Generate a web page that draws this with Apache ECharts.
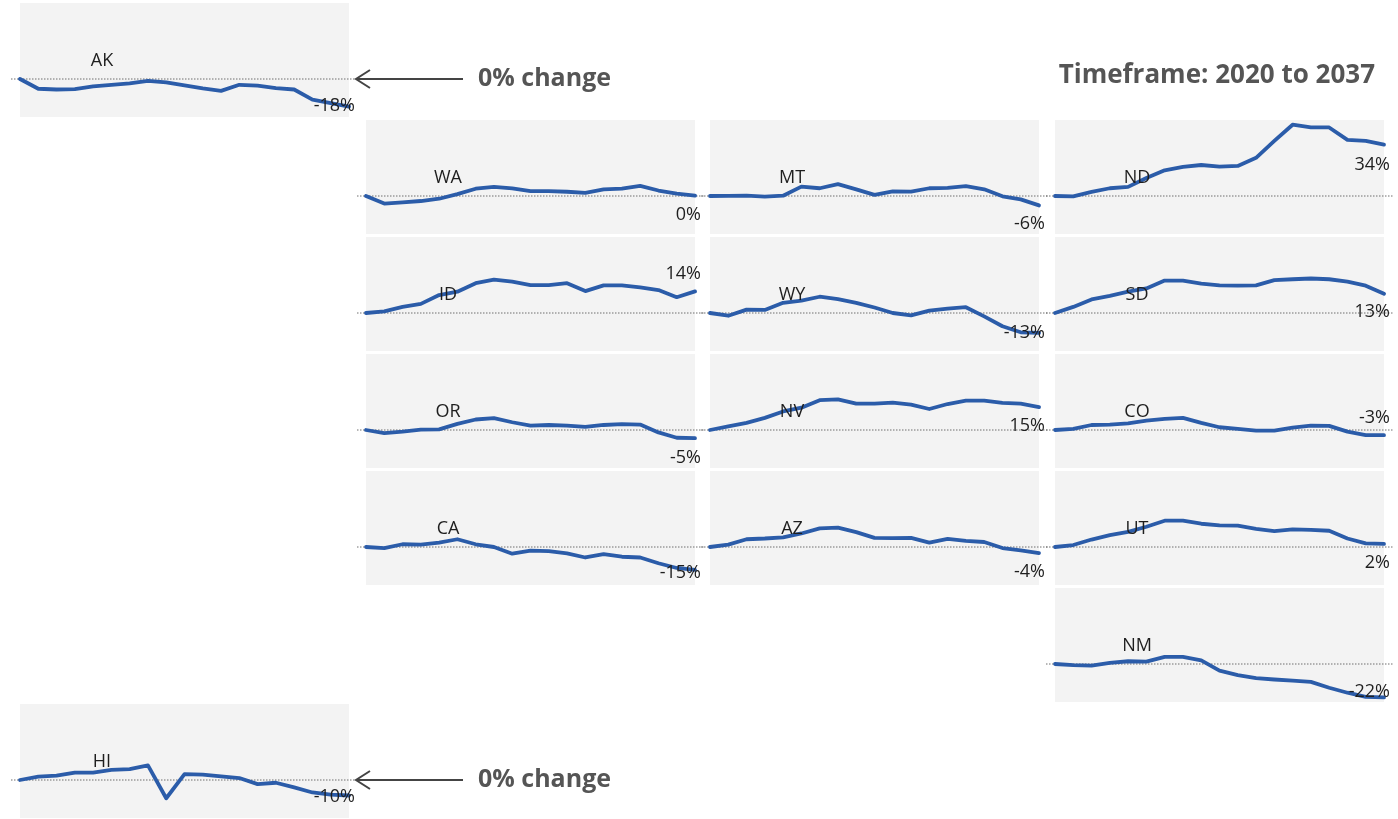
<!DOCTYPE html>
<html><head><meta charset="utf-8">
<script src="https://cdn.jsdelivr.net/npm/echarts@6/dist/echarts.min.js"></script>
<style>html,body{margin:0;padding:0;background:#fff}#c{width:1398px;height:819px}</style>
</head><body><div id="c"></div>
<script>
// ---------- DATA ----------
const years = ['2019','2020','2021','2022','2023','2024','2025','2026','2027','2028','2029','2030','2031','2032','2033','2034','2035','2036','2037'];
const states = ['AK','WA','MT','ND','ID','WY','SD','OR','NV','CO','CA','AZ','UT','NM','HI'];
const AK = [0,-6.4,-6.9,-6.7,-4.9,-3.8,-2.9,-1.3,-2.2,-4.2,-6.2,-7.8,-3.8,-4.4,-6.0,-6.9,-13.6,-15.8,-18.2];
const WA = [0,-5.0,-4.2,-3.3,-1.8,1.2,4.8,6.0,5.0,3.2,3.2,2.8,2.1,4.3,4.8,6.6,3.6,1.5,0.2];
const MT = [0,0.1,0.2,-0.4,0.2,6.2,5.1,7.8,4.4,0.7,3.1,2.9,5.1,5.3,6.5,4.4,-0.2,-2.2,-6.2];
const ND = [0,-0.2,2.7,5.1,6.0,11.8,16.9,19.1,20.4,19.3,19.8,25.1,36.2,46.9,45.1,45.1,36.9,36.2,33.8];
const ID = [0,1.1,4.0,6.0,11.8,14.0,19.6,22.0,20.7,18.4,18.4,19.6,14.4,18.2,18.2,16.9,15.1,10.4,14.2];
const WY = [0,-1.8,2.2,2.0,6.7,8.2,10.7,9.1,6.7,3.6,0,-1.6,1.6,2.9,3.8,-2.2,-8.7,-12.7,-13.1];
const SD = [0,4.0,8.9,11.3,14.0,16.2,21.3,21.3,19.3,18.2,18.0,18.2,21.6,22.2,22.7,22.2,20.7,18.0,12.7];
const OR = [0,-2.0,-1.1,0.2,0.4,4.0,6.9,7.8,5.1,2.9,3.3,2.9,2.0,3.3,3.8,3.6,-1.6,-5.1,-5.4];
const NV = [0,2.4,4.7,8.0,12.2,14.7,19.6,20.2,17.3,17.3,18.0,16.7,13.8,17.1,19.3,19.3,17.8,17.3,15.1];
const CO = [0,0.7,3.3,3.6,4.4,6.2,7.3,8.0,4.7,1.8,0.7,-0.4,-0.4,1.6,2.9,2.7,-1.1,-3.4,-3.4];
const CA = [0,-0.7,1.8,1.6,2.9,5.1,1.8,0,-4.4,-2.4,-2.7,-4.2,-6.9,-4.7,-6.4,-6.9,-10.7,-13.8,-15.0];
const AZ = [0,1.6,5.1,5.6,6.4,8.9,12.2,12.7,9.8,6.0,5.8,6.0,2.9,5.3,4.0,3.3,-0.7,-2.2,-4.0];
const UT = [0,1.3,4.9,7.8,10.0,13.3,17.3,17.3,15.3,14.2,14.0,12.0,10.4,11.6,11.3,10.7,5.6,2.4,2.0];
const NM = [0,-0.7,-1.1,0.7,1.8,1.6,4.7,4.7,2.4,-4.4,-7.3,-9.3,-10.2,-10.9,-11.8,-15.6,-18.9,-21.6,-22.0];
const HI = [0,2.2,2.9,4.9,4.9,6.7,7.1,9.6,-12.0,3.8,3.6,2.4,1.3,-2.7,-1.8,-4.9,-8.2,-9.6,-10.2];
const values = {AK,WA,MT,ND,ID,WY,SD,OR,NV,CO,CA,AZ,UT,NM,HI};
const timeframeText = 'Timeframe: 2020 to 2037';
const zeroText = '0% change';

// ---------- LAYOUT (tile map) ----------
const tile = {AK:[0,0],WA:[1,1],MT:[2,1],ND:[3,1],ID:[1,2],WY:[2,2],SD:[3,2],OR:[1,3],NV:[2,3],CO:[3,3],CA:[1,4],AZ:[2,4],UT:[3,4],NM:[3,5],HI:[0,6]};
const colX = [20, 366, 710, 1055];
const rowY = [3, 120, 237, 354, 471, 588, 704];
const tileW = 329, tileH = 114;
const endLabelDy = {AK:-1,WA:19,MT:18,ND:20,ID:-18,WY:0,SD:18,OR:20,NV:19,CO:-17,CA:3,AZ:19,UT:19,NM:-6,HI:1};

const FONT = '"Open Sans", "Noto Sans", sans-serif';
const chart = echarts.init(document.getElementById('c'), null, {renderer:'canvas'});

const grid = [], xAxis = [], yAxis = [], series = [];
states.forEach((s, k) => {
  const [c, r] = tile[s];
  grid.push({left: colX[c], top: rowY[r], width: tileW, height: tileH, show: true, backgroundColor: '#f3f3f3', borderWidth: 0, containLabel: false});
  xAxis.push({type: 'category', data: years, boundaryGap: false, gridIndex: k, show: false});
  yAxis.push({type: 'value', min: -25, max: 50, gridIndex: k, show: false});
  series.push({type: 'line', name: s, xAxisIndex: k, yAxisIndex: k, data: values[s], showSymbol: false, silent: true, z: 5,
    lineStyle: {color: '#2b5ca9', width: 3.8, join: 'round', cap: 'round'}});
});

chart.setOption({animation: false, grid, xAxis, yAxis, series});

// ---------- annotations positioned via the axes ----------
const g = [];
states.forEach((s, k) => {
  const [c] = tile[s];
  const data = values[s];
  const pL = chart.convertToPixel({gridIndex: k}, [0, 0]);
  const pR = chart.convertToPixel({gridIndex: k}, [data.length - 1, 0]);
  const pE = chart.convertToPixel({gridIndex: k}, [data.length - 1, data[data.length - 1]]);
  const y0 = pL[1];
  const extR = c === 0 ? 6 : 9;
  g.push({type: 'line', z: 3, silent: true, shape: {x1: pL[0] - 9, y1: y0, x2: pR[0] + extR, y2: y0},
    style: {stroke: '#6f6f6f', lineWidth: 1, lineDash: [1.5, 1.5]}});
  g.push({type: 'text', z: 6, silent: true, x: pL[0] + 82, y: y0 - 18,
    style: {text: s, font: '18px ' + FONT, fill: '#1e1e1e', align: 'center', verticalAlign: 'middle'}});
  const endVal = Math.round(data[data.length - 1]);
  g.push({type: 'text', z: 6, silent: true, x: pR[0] + 6, y: pE[1] + endLabelDy[s],
    style: {text: (endVal === 0 ? 0 : endVal) + '%', font: '18px ' + FONT, fill: '#1e1e1e', align: 'right', verticalAlign: 'middle'}});
  if (c === 0) {
    const ax = pR[0] + 7;
    g.push({type: 'line', z: 6, silent: true, shape: {x1: ax, y1: y0, x2: ax + 107, y2: y0}, style: {stroke: '#444', lineWidth: 2}});
    g.push({type: 'polyline', z: 6, silent: true, shape: {points: [[ax + 14, y0 - 9], [ax, y0], [ax + 14, y0 + 9]]}, style: {stroke: '#444', lineWidth: 2, fill: null}});
    g.push({type: 'text', z: 6, silent: true, x: ax + 122, y: y0,
      style: {text: zeroText, font: 'bold 25px ' + FONT, fill: '#555', align: 'left', verticalAlign: 'middle'}});
  }
});
g.push({type: 'text', z: 6, silent: true, x: 1375, y: 76,
  style: {text: timeframeText, font: 'bold 26px ' + FONT, fill: '#555', align: 'right', verticalAlign: 'middle'}});
chart.setOption({graphic: {elements: g}});
</script>
</body></html>
